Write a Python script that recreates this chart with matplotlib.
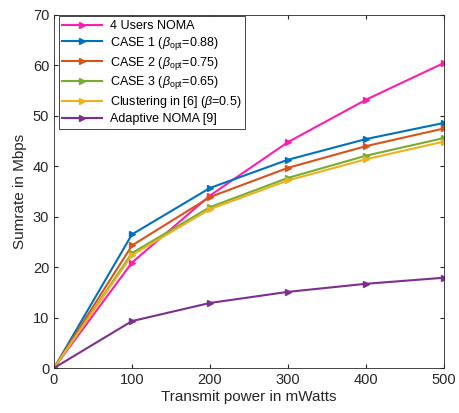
import matplotlib.pyplot as plt
import numpy as np

plt.rcParams['font.family'] = ['Liberation Sans', 'DejaVu Sans']
plt.rcParams['mathtext.fontset'] = 'custom'
plt.rcParams['mathtext.it'] = 'Liberation Sans:italic'
plt.rcParams['mathtext.rm'] = 'Liberation Sans'

power = [0, 100, 200, 300, 400, 500]
noma4 = [0, 20.9, 34.2, 44.8, 53.2, 60.5]
case1 = [0, 26.5, 35.7, 41.3, 45.4, 48.6]
case2 = [0, 24.3, 33.9, 39.7, 44.0, 47.5]
case3 = [0, 22.8, 31.9, 37.7, 42.1, 45.6]
clustering = [0, 22.4, 31.5, 37.2, 41.4, 44.9]
adaptive = [0, 9.3, 12.9, 15.1, 16.7, 17.9]

labels = ['4 Users NOMA',
          r'CASE 1 ($\beta_{\rm opt}$=0.88)',
          r'CASE 2 ($\beta_{\rm opt}$=0.75)',
          r'CASE 3 ($\beta_{\rm opt}$=0.65)',
          r'Clustering in [6] ($\beta$=0.5)',
          'Adaptive NOMA [9]']
colors = ['#FF1DB0', '#0072BD', '#D95319', '#77AC30', '#EDB120', '#7E2F8E']

fig = plt.figure(figsize=(4.6, 4.13), dpi=100)
ax = fig.add_axes([54 / 460, 1 - 368 / 413, 390 / 460, 353 / 413])

for ys, c, lab in zip([noma4, case1, case2, case3, clustering, adaptive], colors, labels):
    ax.plot(power, ys, color=c, linewidth=1.5, marker='>', markersize=5, label=lab)

ax.set_xlim(0, 500)
ax.set_ylim(0, 70)
ax.set_xticks(np.arange(0, 501, 100))
ax.set_yticks(np.arange(0, 71, 10))
ax.tick_params(direction='in', top=True, right=True, labelsize=10.5, colors='#262626', length=3)
for s in ax.spines.values():
    s.set_color('#262626')
    s.set_linewidth(0.6)
ax.set_xlabel('Transmit power in mWatts', fontsize=11, color='#262626', labelpad=2)
ax.set_ylabel('Sumrate in Mbps', fontsize=11, color='#262626', labelpad=4)

leg = ax.legend(loc='upper left', bbox_to_anchor=(0.012, 0.996), fontsize=9, handlelength=3.2,
                labelspacing=0.22, borderaxespad=0.0, borderpad=0.3, handletextpad=0.6,
                fancybox=False, framealpha=1)
leg.get_frame().set_edgecolor('#262626')
leg.get_frame().set_linewidth(0.6)

plt.savefig('out.png', dpi=100)
